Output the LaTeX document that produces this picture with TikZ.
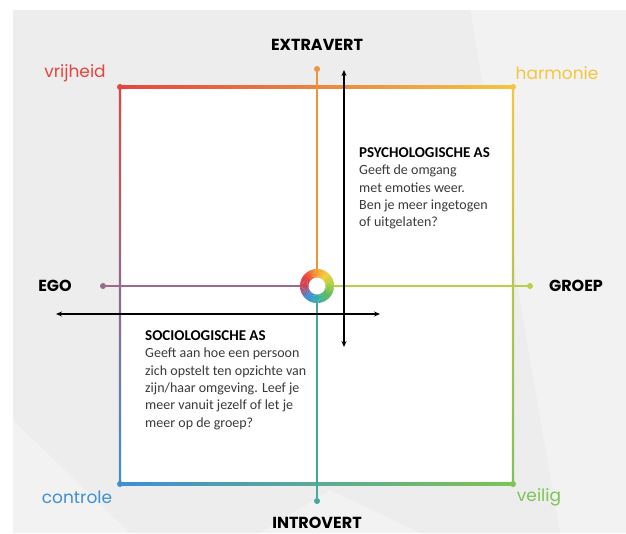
\documentclass[tikz,border=0pt]{standalone}
\usepackage{fontspec}
\setmainfont{Carlito}
\newfontfamily\popfont{Poppins}
\usetikzlibrary{arrows.meta,calc}
\definecolor{bgray}{HTML}{EDEDED}
\definecolor{bglight}{HTML}{F2F2F2}
\definecolor{cRed}{HTML}{E5453F}
\definecolor{cOrange}{HTML}{F0943C}
\definecolor{cYellow}{HTML}{F2C640}
\definecolor{cYG}{HTML}{B8D048}
\definecolor{cGreen}{HTML}{7DC455}
\definecolor{cTeal}{HTML}{45A89E}
\definecolor{cBlue}{HTML}{3F8FD4}
\definecolor{cPurple}{HTML}{7E5E8A}
\definecolor{cEgo}{HTML}{9A6A8A}
\definecolor{txtgray}{HTML}{3A3A3A}
% ring anchor colours (clockwise from upper-left)
\definecolor{rc0}{HTML}{E8403A}
\definecolor{rc1}{HTML}{F39A32}
\definecolor{rc2}{HTML}{F4CE3A}
\definecolor{rc3}{HTML}{A8CF45}
\definecolor{rc4}{HTML}{5DB85C}
\definecolor{rc5}{HTML}{3AAFA9}
\definecolor{rc6}{HTML}{3A8DDA}
\definecolor{rc7}{HTML}{C8465E}
\definecolor{rc8}{HTML}{E8403A}
\tikzset{
  dotnode/.style={circle,inner sep=0pt,minimum size=6pt},
  axisline/.style={line width=1.6pt},
  blackarrow/.style={line width=1.1pt,{Stealth[length=6pt,width=5pt]}-{Stealth[length=6pt,width=5pt]}},
  axislabel/.style={font=\popfont\bfseries\fontsize{16}{18}\selectfont,text=black,inner sep=0pt},
  cornerlabel/.style={font=\popfont\fontsize{17}{19}\selectfont,inner sep=0pt},
  bodytext/.style={font=\fontsize{14}{17.3}\selectfont,text=txtgray,align=left,anchor=north west,inner sep=0pt},
  headtext/.style={font=\bfseries\fontsize{15}{17.3}\selectfont,text=black}
}
\begin{document}
\begin{tikzpicture}[x=1pt,y=-1pt]
\useasboundingbox (0,0) rectangle (626,533);
% background
\fill[white] (0,0) rectangle (626,533);
\fill[bgray] (13,10) rectangle (626,533);
\fill[bglight] (470,10) -- (626,10) -- (626,533) -- (560,533) -- cycle;
\fill[bglight] (13,420) -- (13,533) -- (130,533) -- cycle;
\fill[bglight] (260,533) -- (330,490) -- (420,533) -- cycle;
% square interior
\fill[white] (120,87) rectangle (513,484);
% corner coordinates
\coordinate (tl) at (120,87);
\coordinate (tr) at (513,87);
\coordinate (bl) at (120,484);
\coordinate (br) at (513,484);
% square edges (gradients)
\shade[left color=cRed,middle color=cOrange,right color=cYellow] ($(tl)+(0,-1.2)$) rectangle ($(tr)+(0,1.2)$);
\shade[left color=cBlue,middle color=cTeal!70!cGreen,right color=cGreen] ($(bl)+(0,-1.2)$) rectangle ($(br)+(0,1.2)$);
\shade[top color=cRed,middle color=cPurple,bottom color=cBlue] ($(tl)+(-1.2,0)$) rectangle ($(bl)+(1.2,0)$);
\shade[top color=cYellow,middle color=cYG,bottom color=cGreen] ($(tr)+(-1.2,0)$) rectangle ($(br)+(1.2,0)$);
% corner dots
\node[dotnode,fill=cRed] (ntl) at (tl) {};
\node[dotnode,fill=cYellow] (ntr) at (tr) {};
\node[dotnode,fill=cBlue] (nbl) at (bl) {};
\node[dotnode,fill=cGreen] (nbr) at (br) {};
% axes
\node[circle,inner sep=0pt,minimum size=34pt] (ring) at (317,286) {};
\node[dotnode,fill=cOrange] (vt) at (317,69) {};
\node[dotnode,fill=cTeal] (vb) at (317,501) {};
\node[dotnode,fill=cEgo] (hl) at (103,286) {};
\node[dotnode,fill=cYG] (hr) at (530,286) {};
\draw[axisline,cOrange] (vt) -- (ring);
\draw[axisline,cTeal] (ring) -- (vb);
\draw[axisline,cEgo] (hl) -- (ring);
\draw[axisline,cYG] (ring) -- (hr);
% ring
\begin{scope}[shift={(317,286)},x=1pt,y=1pt]
\foreach \i in {0,...,71}{
  \pgfmathsetmacro{\a}{5*\i}
  \pgfmathsetmacro{\b}{5*\i+5.6}
  \pgfmathsetmacro{\t}{mod(135-\a+2.5+720,360)}
  \pgfmathtruncatemacro{\k}{floor(\t/45)}
  \pgfmathtruncatemacro{\kk}{\k+1}
  \pgfmathtruncatemacro{\p}{100-(\t-45*\k)/45*100}
  \colorlet{segc}{rc\k!\p!rc\kk}
  \fill[segc] (\a:8.5) -- (\a:17) arc[start angle=\a,end angle=\b,radius=17] -- (\b:8.5) arc[start angle=\b,end angle=\a,radius=8.5] -- cycle;
}
\end{scope}
% black arrows
\coordinate (au) at (344,70);
\coordinate (ad) at (344,347);
\coordinate (al) at (56,314);
\coordinate (ar) at (380,314);
\draw[blackarrow] (au) -- (ad);
\draw[blackarrow] (al) -- (ar);
% axis labels
\node[axislabel] (extra) at (317,45) {EXTRAVERT};
\node[axislabel,anchor=north] (intro) at (317,517) {INTROVERT};
\node[axislabel] (ego) at (55,286) {EGO};
\node[axislabel] (groep) at (576,286) {GROEP};
% corner labels
\node[cornerlabel,text=cRed] (vrij) at (75,73) {vrijheid};
\node[cornerlabel,text=cYellow] (harm) at (557,73) {harmonie};
\node[cornerlabel,text=cBlue] (contr) at (77,497) {controle};
\node[cornerlabel,text=cGreen] (veil) at (539,497) {veilig};
% text blocks
\node[bodytext] (psy) at (359,147.5) {{\bfseries\fontsize{15}{17.3}\selectfont\color{black}PSYCHOLOGISCHE AS}\\Geeft de omgang\\met emoties weer.\\Ben je meer ingetogen\\of uitgelaten?};
\node[bodytext] (soc) at (145,330.5) {{\bfseries\fontsize{15}{17.3}\selectfont\color{black}SOCIOLOGISCHE AS}\\Geeft aan hoe een persoon\\zich opstelt ten opzichte van\\zijn/haar omgeving. Leef je\\meer vanuit jezelf of let je\\meer op de groep?};
\end{tikzpicture}
\end{document}
